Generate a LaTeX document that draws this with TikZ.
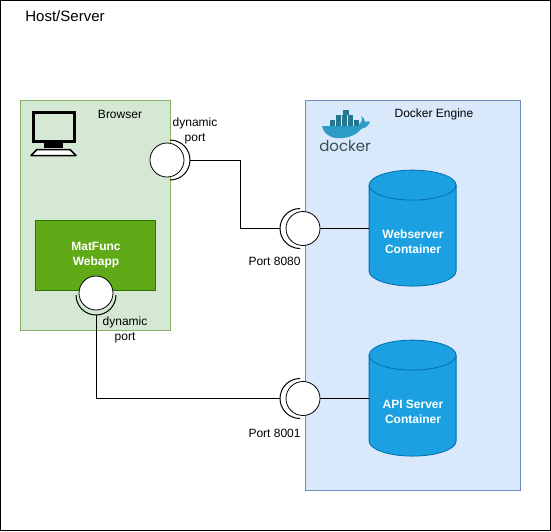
\documentclass[tikz,border=0pt]{standalone}
\usepackage{fontspec}
\setmainfont{Liberation Sans}
\newfontfamily\logofont{Poppins}
\usetikzlibrary{positioning}
\definecolor{browsergreen}{HTML}{D5E8D4}
\definecolor{browserline}{HTML}{82B366}
\definecolor{webappgreen}{HTML}{60A917}
\definecolor{webappline}{HTML}{2D7600}
\definecolor{engineblue}{HTML}{DAE8FC}
\definecolor{engineline}{HTML}{6C8EBF}
\definecolor{cylblue}{HTML}{1BA1E2}
\definecolor{cylline}{HTML}{006EAF}
\definecolor{whaleblue}{HTML}{2C9CC4}
\definecolor{boxteal}{HTML}{27768F}
\definecolor{logogray}{HTML}{394D54}
\tikzset{
  lbl/.style={font=\fontsize{12}{15}\selectfont,align=center,inner sep=0pt},
  whitebold/.style={font=\fontsize{12}{15}\selectfont\bfseries,align=center,text=white,inner sep=0pt},
  portcircle/.style={draw,circle,fill=white,minimum size=34pt,inner sep=0pt},
  socket/.style={draw,line width=1pt},
  wire/.style={draw,line width=1pt},
  container/.style={minimum width=87pt,minimum height=116pt,inner sep=0pt},
  cylbody/.style={draw=cylline,fill=cylblue,line width=0.8pt},
}
\newcommand{\drawcyl}[1]{
  \draw[cylbody] (#1.north west) ++(0,15) arc[start angle=180,end angle=0,x radius=43.5pt,y radius=15pt]
    -- ++(0,86) arc[start angle=0,end angle=-180,x radius=43.5pt,y radius=15pt] -- cycle;
  \draw[cylbody,fill=none] (#1.north west) ++(0,15) arc[start angle=180,end angle=360,x radius=43.5pt,y radius=15pt];
}
\begin{document}
\begin{tikzpicture}[x=1pt,y=-1pt,line width=0.8pt]
\useasboundingbox (0,0) rectangle (551,531);
\node[draw,line width=1pt,minimum width=550pt,minimum height=530pt,inner sep=0pt] (host) at (275.5,265.5) {};
\node[lbl,font=\fontsize{15}{17}\selectfont,anchor=west] (hostlabel) at (25,16) {Host/Server};

\node[draw=browserline,fill=browsergreen,minimum width=150pt,minimum height=230pt,inner sep=0pt] (browser) at (95.5,215.5) {};
\node[lbl] (browserlabel) at (120,114) {Browser};
\node[draw=engineline,fill=engineblue,minimum width=215pt,minimum height=390pt,inner sep=0pt] (engine) at (413,295.5) {};
\node[lbl] (enginelabel) at (434,114) {Docker Engine};
\node[draw=webappline,fill=webappgreen,minimum width=120pt,minimum height=70pt,inner sep=0pt] (webapp) at (95.5,255.5) {};
\node[whitebold] (webapplabel) at (96,255) {MatFunc\\Webapp};

\draw[line width=3pt] (33.5,112.5) rectangle (74.5,141.5);
\fill (44,143) rectangle (63,148);
\draw[line width=1.5pt,fill=white,line join=round] (37,149.5) -- (70,149.5) -- (76,155.5) -- (31,155.5) -- cycle;

\foreach \x in {330,336,342,348,354} \fill[boxteal] (\x,120) rectangle ++(5,6);
\foreach \x in {336,342,348} \fill[boxteal] (\x,115) rectangle ++(5,4.5);
\fill[boxteal] (343,110) rectangle (349,114.5);
\fill[whaleblue] (322,126) -- (358,126) .. controls (362,122) and (363,118) .. (361,116) .. controls (364,118) and (365,120) .. (365,122) .. controls (367,121) and (369,121) .. (370,122) .. controls (368,127) and (364,128) .. (361,129) .. controls (356,136) and (345,139) .. (336,138) .. controls (328,137) and (323,132) .. (322,126) -- cycle;
\node[inner sep=0pt,text=logogray,font=\logofont\fontsize{15}{17}\selectfont] (dockerlabel) at (345,146) {docker};

\node[container] (webserver) at (413,228.5) {};
\drawcyl{webserver}
\node[whitebold] (webserverlabel) at (413,241.5) {Webserver\\Container};
\node[container] (apiserver) at (413,398.5) {};
\drawcyl{apiserver}
\node[whitebold] (apiserverlabel) at (413,411.5) {API Server\\Container};

\node[portcircle] (dynport) at (167,160) {};
\node[portcircle] (port8080) at (303,228.5) {};
\node[portcircle] (port8001) at (303,398.5) {};
\node[portcircle] (appport) at (96,293) {};

\draw[socket] (170,140) arc[start angle=90,end angle=-90,radius=20pt] coordinate[pos=0.5] (dynsocket);
\draw[socket] (300,208.5) arc[start angle=90,end angle=270,radius=20pt] coordinate[pos=0.5] (socket8080);
\draw[socket] (300,378.5) arc[start angle=90,end angle=270,radius=20pt] coordinate[pos=0.5] (socket8001);
\draw[socket] (76,295) arc[start angle=180,end angle=360,radius=20pt] coordinate[pos=0.5] (appsocket);

\draw[wire] (dynsocket) -- ++(50,0) |- (socket8080);
\draw[wire] (appsocket) |- (socket8001);
\draw[wire] (port8080) -- (webserver);
\draw[wire] (port8001) -- (apiserver);

\node[lbl] (dynlabel) at (195,131) {dynamic\\port};
\node[lbl] (applabel) at (125,330) {dynamic\\port};
\node[lbl,below left=10.5pt and 2pt of port8080.south] (label8080) {Port 8080};
\node[lbl,below left=12.5pt and 2pt of port8001.south] (label8001) {Port 8001};
\end{tikzpicture}
\end{document}
